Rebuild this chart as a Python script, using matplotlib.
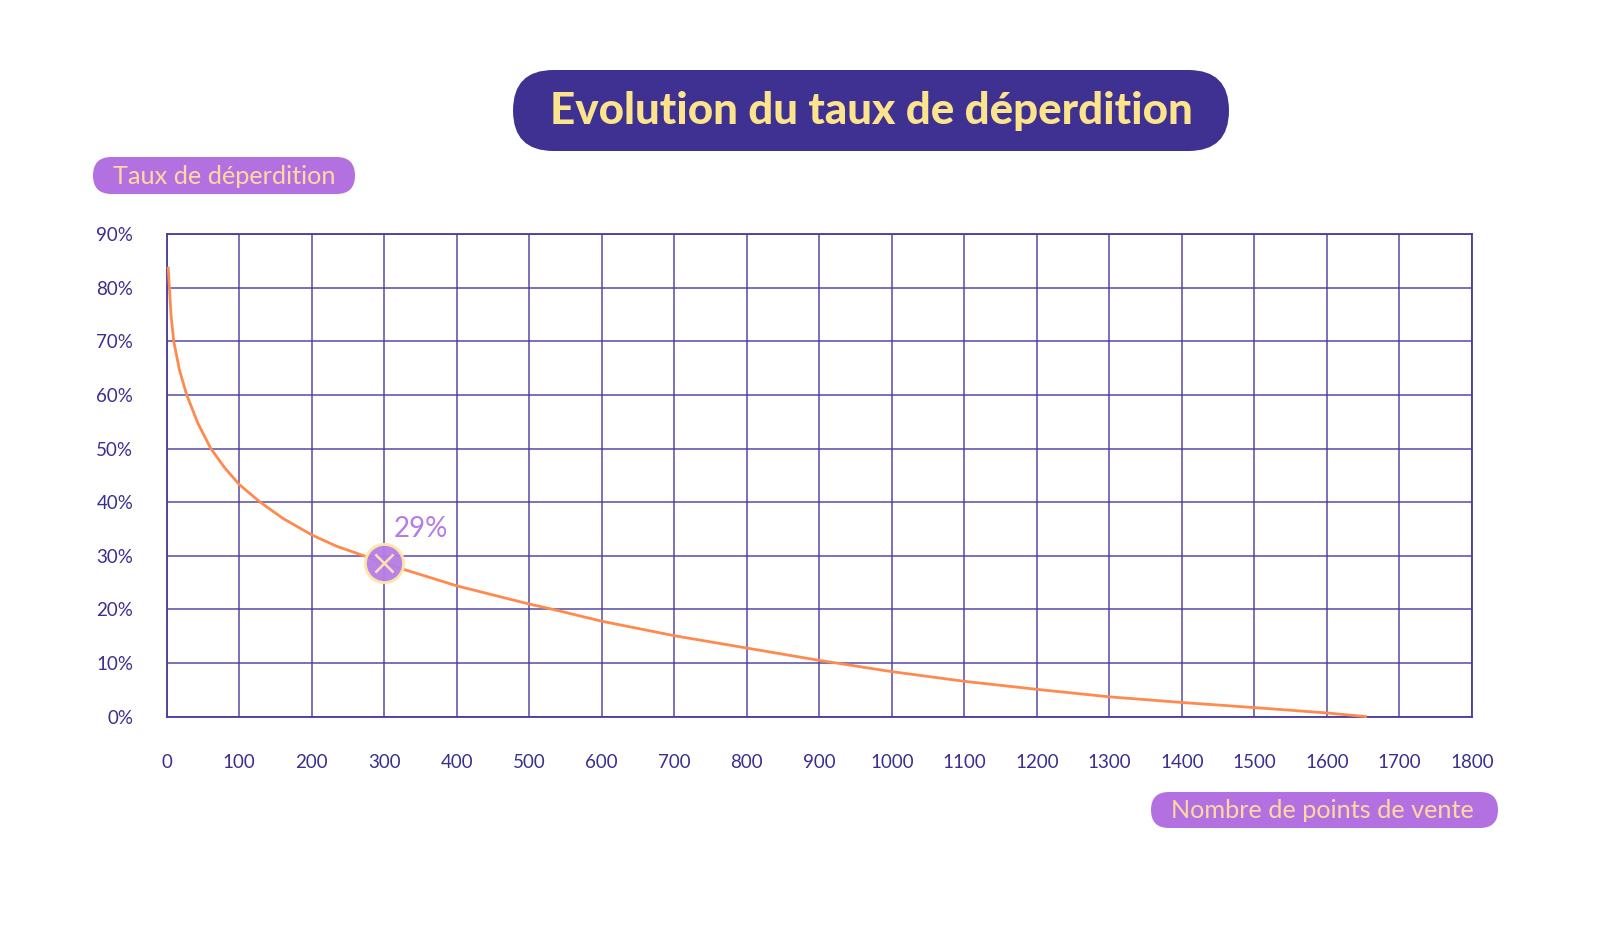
import matplotlib
matplotlib.use("Agg")
import matplotlib.pyplot as plt
from matplotlib.patches import FancyBboxPatch

plt.rcParams['font.family'] = ['Lato', 'DejaVu Sans']

# ---- data ----
points_de_vente = [2, 3.7, 6, 9.7, 17.5, 27.6, 42.9, 60.8, 80.6, 100, 129, 160, 200, 234,
                   272, 300, 350, 400, 500, 533, 600, 700, 800, 900, 924, 1000, 1100, 1200,
                   1300, 1400, 1500, 1600, 1655]
taux = [83.9, 80, 74.8, 70, 64.7, 60, 54.75, 50, 46.3, 43.3, 40, 37.0, 33.9, 31.8,
        30, 28.6, 26.5, 24.4, 21.0, 20, 17.8, 15.1, 12.8, 10.5, 10, 8.4, 6.6, 5.1,
        3.7, 2.65, 1.7, 0.7, 0]
highlight_x = [300]
highlight_y = [28.6]
highlight_label = "29%"
x_ticks = list(range(0, 1801, 100))
y_ticks = list(range(0, 91, 10))
y_tick_labels = [f"{v}%" for v in y_ticks]
title = "Evolution du taux de déperdition"
y_label = "Taux de déperdition"
x_label = "Nombre de points de vente"

# ---- colours ----
INDIGO = '#3f3192'
GRID = '#4a3c9e'
TICK = '#3b2f8f'
ORANGE = '#ff8a4f'
PURPLE = '#b370e0'
PEACH = '#fcd9a2'
YELLOW = '#fbe48c'

W, H = 1600, 939
fig = plt.figure(figsize=(W / 100, H / 100), dpi=100)
fig.patch.set_facecolor('white')

# overlay axes in pixel units for decorative boxes
ov = fig.add_axes([0, 0, 1, 1], zorder=0)
ov.set_xlim(0, W)
ov.set_ylim(H, 0)
ov.axis('off')

left, right, top, bottom = 166.7, 1472, 234, 716.7
ax = fig.add_axes([left / W, 1 - bottom / H, (right - left) / W, (bottom - top) / H], zorder=1)
ax.set_facecolor('none')
ax.set_xlim(0, 1800)
ax.set_ylim(0, 90)
ax.set_xticks(x_ticks)
ax.set_xticklabels([str(t) for t in x_ticks])
ax.set_yticks(y_ticks)
ax.set_yticklabels(y_tick_labels)
ax.grid(True, color=GRID, linewidth=1.2, alpha=0.85)
ax.set_axisbelow(True)
for s in ax.spines.values():
    s.set_color(GRID)
    s.set_linewidth(1.3)
ax.tick_params(axis='both', length=0, colors=TICK, labelsize=13.5)
ax.tick_params(axis='x', pad=27)
ax.tick_params(axis='y', pad=24)

ax.plot(points_de_vente, taux, color=ORANGE, linewidth=2.0, solid_capstyle='butt',
        solid_joinstyle='round', zorder=3, clip_on=False)
ax.scatter(highlight_x, highlight_y, s=760, facecolor='#b57be6', edgecolor='#fde8a8',
           linewidth=2.2, zorder=4, alpha=0.95)
ax.scatter(highlight_x, highlight_y, s=170, marker='x', color='#fde3b2', linewidths=1.8, zorder=5)
ax.annotate(highlight_label, (highlight_x[0], highlight_y[0]), xytext=(7, 25),
            textcoords='offset points', color='#b57be6', fontsize=20, ha='left', va='center',
            zorder=6)


def pill(x0, y0, x1, y1, color):
    h = y1 - y0
    p = FancyBboxPatch((x0 + h / 2, y0 + h / 2), (x1 - x0) - h, 0,
                       boxstyle=f"round,pad={h/2}", facecolor=color, edgecolor='none')
    ov.add_patch(p)


fig.canvas.draw()
renderer = fig.canvas.get_renderer()


def fit_text(cx, cy, s, target_w, color, weight='normal', start=20):
    t = ov.text(cx, cy, s, ha='center', va='center', color=color, fontsize=start,
                fontweight=weight, zorder=3)
    w = t.get_window_extent(renderer).width
    t.set_fontsize(start * target_w / w)
    return t


# title
pill(513, 70, 1229, 151, INDIGO)
fit_text(871, 111, title, 643, YELLOW, weight='black', start=30)

# y label
pill(93, 157, 355, 194, PURPLE)
fit_text(224, 176, y_label, 222, PEACH, start=18)

# x label
pill(1151, 792, 1498, 828, PURPLE)
fit_text(1322, 810.5, x_label, 303, PEACH, start=18)

fig.savefig('out.png', dpi=100, facecolor='white')
